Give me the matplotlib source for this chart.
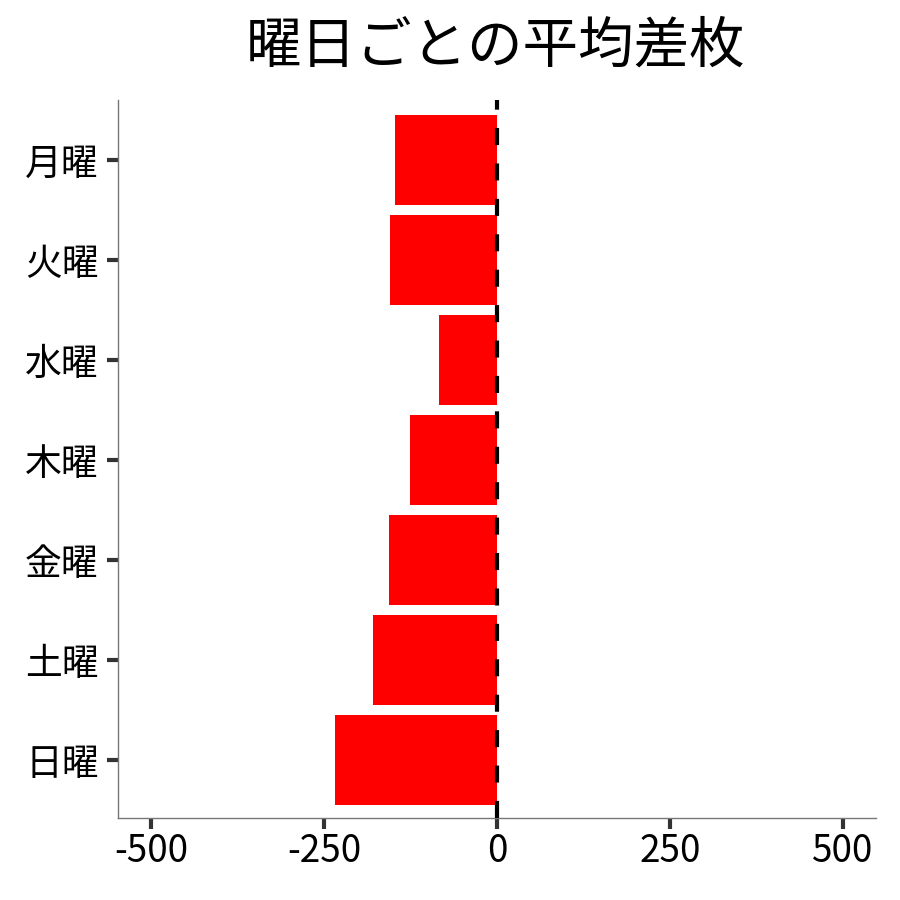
import matplotlib
matplotlib.use("Agg")
import matplotlib.pyplot as plt

plt.rcParams['font.family'] = ['Noto Sans CJK JP', 'DejaVu Sans']

days = ["月曜", "火曜", "水曜", "木曜", "金曜", "土曜", "日曜"]
avg_diff = [-148, -155, -84, -126, -156, -179, -234]
xticks = [-500, -250, 0, 250, 500]
xtick_labels = ["-500", "-250", "0", "250", "500"]

fig = plt.figure(figsize=(9, 9), dpi=100)
ax = fig.add_axes([118/900, 1 - 818/900, (876-118)/900, (818-100)/900])

ypos = list(range(len(days)))
ax.barh(ypos, avg_diff, height=0.9, color="#FF0000", zorder=2)
ax.axvline(0, color="black", linestyle=(0, (4.1, 4.4)), linewidth=3, zorder=3)

ax.set_xlim(-548, 548)
ax.set_ylim(len(days) - 0.42, -0.6)
ax.set_yticks(ypos)
ax.set_yticklabels(days)
ax.set_xticks(xticks)
ax.set_xticklabels(xtick_labels)

for s in ["top", "right"]:
    ax.spines[s].set_visible(False)
for s in ["left", "bottom"]:
    ax.spines[s].set_color("#777777")
    ax.spines[s].set_linewidth(1.0)

ax.tick_params(axis="both", length=8, width=3, color="#333333", labelsize=26.5, labelcolor="black")
ax.tick_params(axis="y", pad=6)
ax.tick_params(axis="x", pad=2)

fig.suptitle("曜日ごとの平均差枚", fontsize=40, y=0.98, va="top", x=0.551)
fig.savefig("out.png", dpi=100, facecolor="white")
